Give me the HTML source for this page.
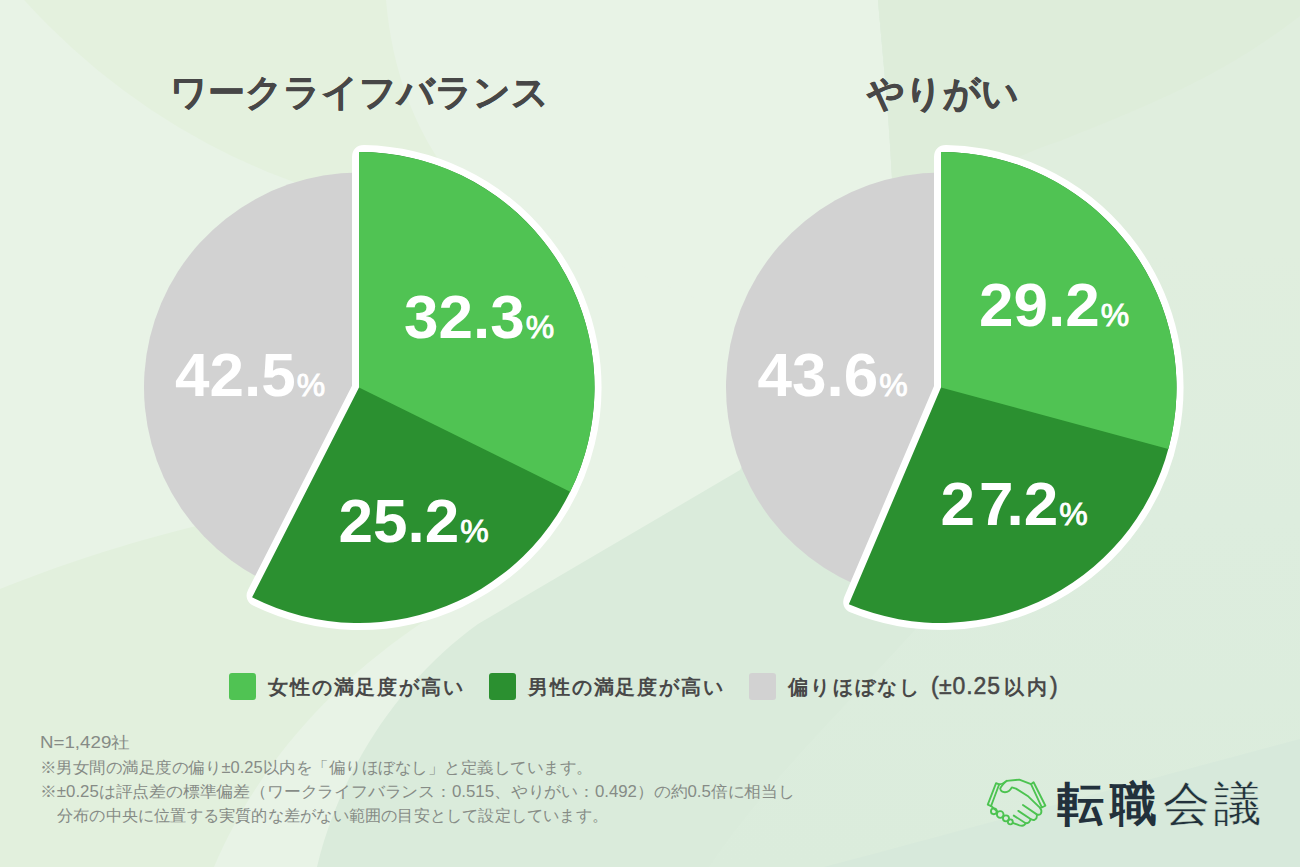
<!DOCTYPE html>
<html><head><meta charset="utf-8">
<style>
html,body{margin:0;padding:0;}
body{width:1300px;height:867px;overflow:hidden;position:relative;font-family:"Liberation Sans",sans-serif;background:#e3efdf;}
svg{position:absolute;left:0;top:0;}
.title{position:absolute;font-size:37px;font-weight:bold;color:#474747;white-space:nowrap;line-height:1;-webkit-text-stroke:0.5px #474747;}
.num{position:absolute;color:#fff;font-weight:bold;font-size:62px;white-space:nowrap;line-height:1;}
.num span{font-size:32px;font-weight:normal;margin-left:1px;-webkit-text-stroke:0.9px #fff;}
.sw{position:absolute;top:673px;width:27px;height:27px;border-radius:3px;}
.lt{position:absolute;top:677px;font-size:20px;letter-spacing:1.85px;font-weight:bold;color:#484848;white-space:nowrap;line-height:1;}
.fl{position:absolute;left:41px;font-size:16px;line-height:1;color:#868b86;white-space:nowrap;transform-origin:0 0;}
.logo{position:absolute;top:780px;font-size:47px;line-height:1;color:#22313c;white-space:nowrap;letter-spacing:6px;}
</style></head><body>
<svg width="1300" height="867" viewBox="0 0 1300 867">
<defs>
<linearGradient id="gI" x1="0" y1="0" x2="0" y2="867" gradientUnits="userSpaceOnUse">
<stop offset="0.29" stop-color="#e0eede"/><stop offset="0.6" stop-color="#ddedde"/><stop offset="1" stop-color="#dbecdc"/>
</linearGradient>
</defs>
<rect width="1300" height="867" fill="#e8f3e6"/>
<circle cx="525" cy="-451" r="674" fill="#e4f1de"/>
<path d="M386 0 C392 70 415 140 470 200 L700 300 L892 178 C888 100 882 50 878 0 Z" fill="#e8f3e6"/>
<path d="M0 589 C60 565 120 545 200 525 L300 560 L470 600 L440 611 C330 680 255 770 214 867 L0 867 Z" fill="#e2f0dd"/>
<path d="M317 867 C340 770 400 680 478 624 L740 470 L892 178 C888 100 882 50 878 0 L1300 0 L1300 867 Z" fill="#daebdb"/>
<path d="M709 867 C760 790 840 712 915 630 L941 387 L892 178 C888 100 882 50 878 0 L1300 0 L1300 867 Z" fill="url(#gI)"/>
<path d="M824 867 C1000 820 1150 779 1300 739 L1300 867 Z" fill="#d7e9db"/>
<path d="M878 0 C884 60 890 130 892 178 C950 200 1000 160 1060 141 C1160 101 1226 73 1300 16 L1300 0 Z" fill="#deedda"/>

</svg>
<svg width="1300" height="867" viewBox="0 0 1300 867">
<path d="M359 387.5 L261.39 579.07 A215 215 0 0 1 359.00 172.50 Z" fill="#d2d2d2"/>
<path d="M359 387.5 L359.00 157.00 Q359.00 152.00 364.00 152.05 A235.5 235.5 0 1 1 256.56 599.55 Q252.09 597.33 254.36 592.88 Z" fill="#fff" stroke="#fff" stroke-width="14" stroke-linejoin="round"/>
<path d="M359 387.5 L359.00 152.00 A235.5 235.5 0 1 1 252.09 597.33 Z" fill="#2b9030"/>
<path d="M359 387.5 L359.00 152.00 A235.5 235.5 0 0 1 570.16 491.77 Z" fill="#50c353"/>
<path d="M941 387.5 L856.85 585.35 A215 215 0 0 1 941.00 172.50 Z" fill="#d2d2d2"/>
<path d="M941 387.5 L941.00 157.00 Q941.00 152.00 946.00 152.05 A235.5 235.5 0 1 1 853.45 606.12 Q848.83 604.21 850.79 599.61 Z" fill="#fff" stroke="#fff" stroke-width="14" stroke-linejoin="round"/>
<path d="M941 387.5 L941.00 152.00 A235.5 235.5 0 1 1 848.83 604.21 Z" fill="#2b9030"/>
<path d="M941 387.5 L941.00 152.00 A235.5 235.5 0 0 1 1168.35 448.93 Z" fill="#50c353"/>
</svg>
<div class="title" style="left:170px;top:74px">ワークライフバランス</div>
<div class="title" style="left:867px;top:75px">やりがい</div>
<div class="num" style="left:404px;top:286px">32.3<span>%</span></div>
<div class="num" style="left:338.5px;top:490px">25.2<span>%</span></div>
<div class="num" style="left:175px;top:344px">42.5<span>%</span></div>
<div class="num" style="left:979px;top:274px">29.2<span>%</span></div>
<div class="num" style="left:940.5px;top:472.5px">2<i style="font-style:normal;margin-left:4px;margin-right:-7px">7</i>.2<span>%</span></div>
<div class="num" style="left:757.5px;top:344px">43.6<span>%</span></div>
<div class="sw" style="left:229px;background:#50c353"></div><div class="lt" style="left:268px">女性の満足度が高い</div>
<div class="sw" style="left:489px;background:#2b9030"></div><div class="lt" style="left:528px">男性の満足度が高い</div>
<div class="sw" style="left:749px;background:#d2d2d2"></div><div class="lt" style="left:788px;letter-spacing:2.3px">偏りほぼなし</div><div class="lt" style="left:931px;letter-spacing:0;font-size:23px;top:675px;font-weight:normal;-webkit-text-stroke:0.5px #484848">(</div><div class="lt" style="left:939px;letter-spacing:0.9px;font-size:23px;top:675px;font-weight:normal;-webkit-text-stroke:0.5px #484848">±0.25</div><div class="lt" style="left:1004px;letter-spacing:3px">以内</div><div class="lt" style="left:1050px;letter-spacing:0;font-size:23px;top:675px;font-weight:normal;-webkit-text-stroke:0.5px #484848">)</div>
<div class="fl" style="top:735px;left:40px;transform:scaleX(1.17)">N=1,429社</div>
<div class="fl" style="top:759.5px;left:40px;transform:scaleX(1.031)">※男女間の満足度の偏り±0.25以内を「偏りほぼなし」と定義しています。</div>
<div class="fl" style="top:783.5px;left:40px;transform:scaleX(1.051)">※±0.25は評点差の標準偏差（ワークライフバランス：0.515、やりがい：0.492）の約0.5倍に相当し</div>
<div class="fl" style="top:807.5px;left:57px;transform:scaleX(1.013)">分布の中央に位置する実質的な差がない範囲の目安として設定しています。</div>
<svg style="position:absolute;left:980px;top:772px" width="72" height="60" viewBox="0 0 1040 867" fill="none" stroke="#4cc350" stroke-width="27" stroke-linejoin="round" stroke-linecap="round">
<path d="M232 162 L276 180 L160 492 L112 472 Z"/>
<path d="M774 148 L945 488 L893 512 L737 176 Z"/>
<path d="M276 180 Q330 175 385 128 L568 110 L737 176"/>
<path d="M385 128 Q305 200 292 240 Q300 290 360 292 Q425 290 460 222 L520 240 L700 355 L868 518"/>
<path d="M868 518 Q900 560 880 600 Q860 630 820 612 L620 476"/>
<path d="M820 612 Q830 670 790 690 Q760 700 730 680 L553 562"/>
<path d="M730 680 Q720 740 660 740 L488 630"/>
<path d="M660 740 Q640 790 570 770 L480 738"/>
<path d="M160 492 L250 570"/>
<circle cx="200" cy="568" r="42"/>
<circle cx="292" cy="614" r="48"/>
<circle cx="375" cy="670" r="44"/>
<circle cx="438" cy="720" r="36"/>
</svg>

<div class="logo" style="left:1057px;font-weight:bold">転職</div>
<div class="logo" style="left:1162.5px;letter-spacing:4.5px;-webkit-text-stroke:0.4px #dcecdc">会議</div>
</body></html>
